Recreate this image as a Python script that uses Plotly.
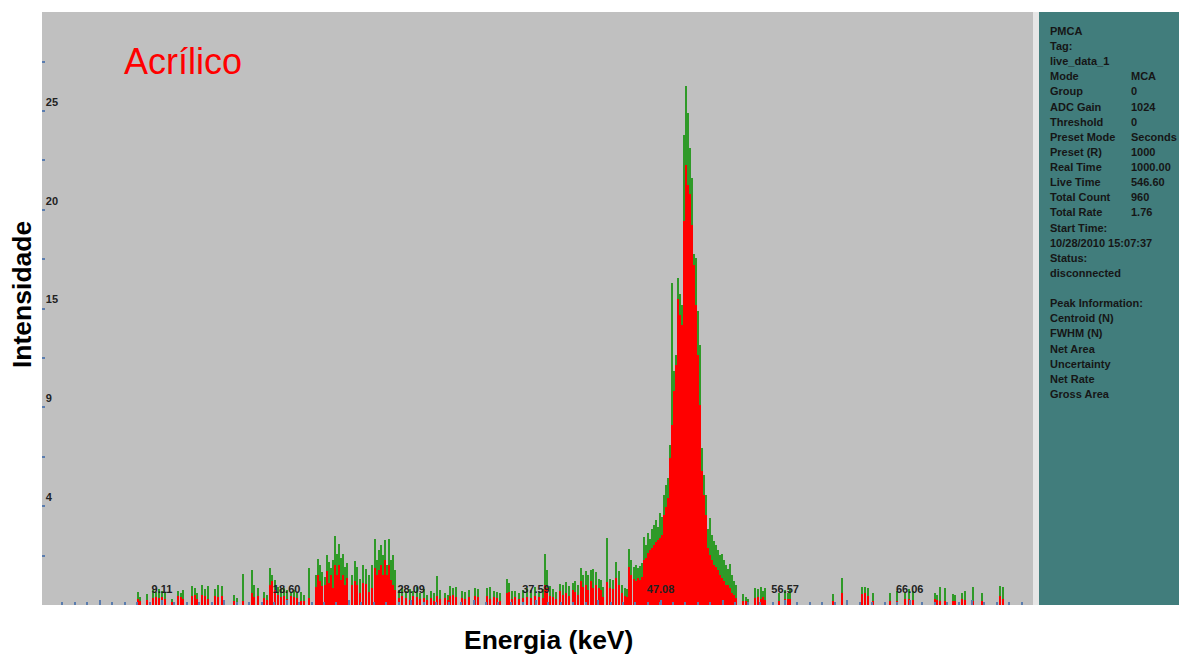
import numpy as np
import plotly.graph_objects as go

# ---- spectrum (MCA channels, intensity) ----
channel = [
    96, 98, 105, 111, 114, 117, 120, 123, 130, 136, 139, 141, 150, 153, 155, 160, 163, 166, 173, 176, 180, 192, 195,
    201, 210, 212, 216, 222, 225, 228, 230, 233, 236, 239, 242, 245, 249, 252, 255, 259, 262, 267,
    274, 276, 278, 280, 283, 285, 287, 289, 291, 293, 295, 297, 299, 301, 303, 305, 310, 313, 315, 318, 321, 324, 327, 330,
    333, 335, 337, 339, 341, 343, 345, 347, 349, 351, 353, 357, 360, 364, 368, 371, 375, 378, 382, 385, 389, 392, 395, 398,
    403, 406, 408, 411, 414, 420, 423, 427, 433, 436, 445, 448, 452, 455, 458, 465, 467, 470, 473, 477, 481,
    485, 489, 493, 497, 501, 503, 505, 508, 511, 514, 518, 521, 524, 527, 531, 533, 536, 539, 541, 544, 546, 549,
    551, 554, 557, 559, 561, 565, 568, 571, 574, 577, 580, 583, 585, 587, 589,
    592, 594, 596, 598, 600, 602, 604, 606, 608, 610, 612, 614, 616, 618, 620, 622, 624, 626, 628, 630, 632, 634, 636, 638,
    640, 642, 644, 646, 648, 650, 652, 654, 656, 658, 660, 662, 664, 666, 668, 670, 672, 674, 676, 678, 680, 682, 684, 686,
    688, 690, 692, 694,
    701, 704, 706, 713, 716, 719, 721, 723, 737, 743, 746, 748, 791, 800, 820, 823, 826, 831, 848, 855,
    863, 867, 871, 893, 895, 898, 903, 911, 913, 920, 923, 931, 940, 958, 961,
]

# raw counts (green)
counts_raw = [
    0.65, 0.4, 0.55, 0.75, 0.65, 0.8, 0.7, 0.6, 0.3, 0.7, 0.6, 0.75, 0.95, 0.85, 0.6, 1.0, 0.8, 0.95, 0.8, 1.0, 0.95, 0.5, 0.35,
    1.55, 1.75, 1.0, 0.85, 0.65, 0.5, 1.85, 1.5, 1.25, 0.9, 0.8, 0.85, 0.75, 0.65, 0.75, 0.6, 0.65, 0.5, 1.85,
    1.5, 2.3, 2.0, 1.65, 1.4, 2.5, 2.15, 1.85, 2.25, 3.45, 2.55, 3.05, 2.35, 2.55, 1.9, 2.1, 1.5, 2.2, 1.9, 1.3, 2.0, 1.8, 1.5, 2.0,
    3.3, 2.25, 2.75, 3.0, 2.5, 3.25, 2.0, 3.3, 2.25, 2.5, 1.75, 0.75, 0.85, 0.7, 0.8, 0.7, 0.9, 0.6, 0.8, 0.5, 0.7, 0.6, 1.45, 0.75,
    0.6, 0.5, 0.95, 0.85, 0.9, 0.7, 0.65, 0.75, 0.85, 0.8, 0.85, 0.9, 0.7, 0.65, 0.6, 1.3, 1.1, 0.7, 0.7, 0.6, 0.75,
    0.85, 0.75, 0.9, 0.65, 0.8, 2.55, 1.75, 0.95, 0.8, 0.65, 1.05, 1.0, 1.15, 0.95, 1.1, 1.2, 1.0, 1.85, 1.5, 1.7, 1.5, 1.75,
    1.8, 1.65, 1.3, 1.25, 0.9, 3.35, 1.3, 1.25, 2.15, 1.7, 1.0, 0.85, 0.8, 2.8, 2.25,
    1.9, 2.0, 1.85, 1.95, 2.1, 3.4, 3.0, 3.6, 3.3, 3.8, 4.0, 4.25, 3.9, 4.6, 4.4, 5.5, 6.0, 6.35, 8.0, 16.1, 11.7, 12.5, 16.35, 15.55,
    15.0, 23.5, 25.95, 24.6, 22.85, 21.35, 17.55, 17.35, 14.7, 13.0, 7.85, 6.5, 5.5, 3.8, 4.35, 3.5, 3.2, 3.0, 2.75, 2.5, 2.55, 2.25, 2.0, 1.8,
    2.05, 1.5, 1.2, 1.0,
    0.55, 0.4, 0.3, 0.85, 0.8, 0.9, 0.7, 0.85, 0.6, 0.75, 0.6, 0.8, 0.55, 1.35, 0.9, 0.9, 0.85, 0.6, 0.6, 0.7,
    0.6, 0.8, 0.7, 0.6, 0.5, 0.9, 0.85, 0.55, 0.5, 0.6, 0.7, 0.9, 0.6, 0.95, 0.9,
]

# processed counts (red)
counts_fill = [
    0.3, 0.2, 0.25, 0.35, 0.4, 0.35, 0.4, 0.3, 0.15, 0.45, 0.4, 0.3, 0.45, 0.5, 0.3, 0.5, 0.45, 0.3, 0.45, 0.4, 0.45, 0.2, 0.15,
    0.2, 0.6, 0.4, 0.45, 0.35, 0.25, 1.0, 1.2, 0.75, 0.5, 0.4, 0.45, 0.3, 0.45, 0.4, 0.35, 0.2, 0.2, 0.35,
    0.9, 1.5, 1.2, 0.95, 1.0, 1.7, 1.1, 1.5, 0.85, 2.0, 1.5, 2.0, 1.25, 1.5, 1.0, 1.35, 1.0, 1.2, 1.0, 0.6, 1.1, 1.05, 0.65, 0.85,
    1.85, 1.5, 1.75, 2.0, 1.5, 2.25, 1.5, 2.0, 1.25, 1.0, 0.75, 0.35, 0.45, 0.35, 0.25, 0.45, 0.4, 0.3, 0.35, 0.25, 0.35, 0.2, 0.45, 0.3,
    0.35, 0.25, 0.45, 0.5, 0.4, 0.35, 0.3, 0.4, 0.45, 0.4, 0.45, 0.3, 0.4, 0.35, 0.2, 0.6, 0.65, 0.3, 0.4, 0.3, 0.35,
    0.4, 0.35, 0.45, 0.4, 0.35, 1.0, 0.85, 0.45, 0.4, 0.3, 0.7, 0.5, 0.6, 0.45, 0.75, 0.65, 0.5, 1.2, 0.9, 1.0, 0.75, 1.2,
    0.85, 1.0, 0.85, 0.75, 0.4, 1.15, 0.85, 0.8, 1.35, 1.0, 0.6, 0.45, 0.4, 1.9, 1.5,
    1.3, 1.2, 1.35, 1.25, 1.4, 2.25, 2.35, 2.6, 2.75, 2.85, 3.0, 3.15, 3.25, 3.35, 3.5, 4.5, 4.9, 5.35, 7.35, 9.0, 10.7, 12.0, 15.3, 14.5,
    14.0, 19.2, 22.0, 21.0, 20.55, 19.0, 17.0, 15.0, 12.5, 10.0, 6.7, 5.5, 4.5, 2.85, 2.5, 2.25, 2.0, 1.9, 1.75, 1.5, 1.35, 1.2, 1.0, 1.0,
    0.85, 0.6, 0.5, 0.35,
    0.2, 0.2, 0.15, 0.35, 0.4, 0.3, 0.4, 0.25, 0.2, 0.3, 0.3, 0.3, 0.2, 0.6, 0.55, 0.6, 0.45, 0.2, 0.2, 0.2,
    0.3, 0.3, 0.25, 0.3, 0.25, 0.2, 0.2, 0.2, 0.2, 0.3, 0.25, 0.2, 0.2, 0.45, 0.3,
]

assert len(channel) == len(counts_raw) == len(counts_fill)

# energy calibration labels (keV) and intensity tick labels
energy_labels = ["9.11", "18.60", "28.09", "37.59", "47.08", "56.57", "66.06"]
intensity_ticks = [4.94, 9.88, 14.82, 19.76, 24.70]
intensity_labels = ["4", "9", "15", "20", "25"]

# status panel
panel_rows = [
    ("PMCA", ""), ("Tag:", ""), ("live_data_1", ""), ("Mode", "MCA"), ("Group", "0"),
    ("ADC Gain", "1024"), ("Threshold", "0"), ("Preset Mode", "Seconds"), ("Preset (R)", "1000"),
    ("Real Time", "1000.00"), ("Live Time", "546.60"), ("Total Count", "960"), ("Total Rate", "1.76"),
    ("Start Time:", ""), ("10/28/2010 15:07:37", ""), ("Status:", ""), ("disconnected", ""), ("", ""),
    ("Peak Information:", ""), ("Centroid (N)", ""), ("FWHM (N)", ""), ("Net Area", ""),
    ("Uncertainty", ""), ("Net Rate", ""), ("Gross Area", ""),
]

# ---- geometry ----
W, H = 1179, 657
L, R, T, B = 42, 1033, 12, 605
PW, PH = R - L, B - T
KEV_PER_CH = 0.076164
KEV_OFFSET = -0.03
N_CH = 991


def px_x(px):
    return (px - L) / PW


def px_y(py):
    return (B - py) / PH


ch = np.array(channel, dtype=float)
gaps = np.diff(ch)
left_gap = np.concatenate([[99.0], gaps])
right_gap = np.concatenate([gaps, [99.0]])
near = np.minimum(left_gap, right_gap)
green_w = np.where(near <= 2, 2.0, 1.8)
red_w = np.where(near <= 2, 2.0, 1.2)

label_ch = [(float(e) - KEV_OFFSET) / KEV_PER_CH for e in energy_labels]
step = label_ch[1] - label_ch[0]
half_ch = [label_ch[0] - step / 2 + k * step for k in range(8)]
tickvals = label_ch + half_ch
ticktext = [f"{e}" for e in energy_labels] + [""] * len(half_ch)

fig = go.Figure()
fig.add_trace(go.Bar(x=ch, y=counts_raw, width=green_w,
                     marker=dict(color="#2f9a28", line=dict(width=0)), hoverinfo="skip"))
fig.add_trace(go.Bar(x=ch, y=counts_fill, width=red_w,
                     marker=dict(color="#ff0000", line=dict(width=0)), hoverinfo="skip"))

tick_blue = "#5a7cae"
fig.update_layout(
    width=W, height=H,
    margin=dict(l=L, r=W - R, t=T, b=H - B, pad=0),
    paper_bgcolor="white", plot_bgcolor="#c0c0c0",
    barmode="overlay", showlegend=False,
    font=dict(family="Liberation Sans, Arial, sans-serif"),
    xaxis=dict(
        range=[0, N_CH], showgrid=False, zeroline=False, showline=False,
        tickmode="array", tickvals=tickvals, ticktext=ticktext,
        ticks="inside", ticklen=5, tickwidth=1.5, tickcolor=tick_blue,
        ticklabelposition="inside", ticklabelstandoff=4,
        tickfont=dict(size=11, color="#222222", weight="bold"),
        minor=dict(tick0=label_ch[0] - 9 * step / 10, dtick=step / 10,
                   ticks="inside", ticklen=3, tickwidth=1.5, tickcolor=tick_blue),
    ),
    yaxis=dict(
        range=[0, 29.65], showgrid=False, zeroline=False, showline=False,
        tickmode="array", tickvals=intensity_ticks, ticktext=intensity_labels,
        ticks="inside", ticklen=3, tickwidth=1.5, tickcolor=tick_blue,
        ticklabelposition="inside", ticklabelstandoff=0, ticklabelshift=-9,
        tickfont=dict(size=11, color="#222222", weight="bold"),
        minor=dict(tick0=intensity_ticks[0] / 2, dtick=intensity_ticks[0],
                   ticks="inside", ticklen=3, tickwidth=1.5, tickcolor=tick_blue),
    ),
)

# separator strip and status panel
fig.add_shape(type="rect", xref="paper", yref="paper",
              x0=px_x(1033), x1=px_x(1039), y0=0, y1=1,
              fillcolor="#e6e6e6", line=dict(width=0), layer="below")
fig.add_shape(type="rect", xref="paper", yref="paper",
              x0=px_x(1039), x1=px_x(1185), y0=0, y1=1,
              fillcolor="#417d7c", line=dict(width=0), layer="below")

panel_font = dict(family="Liberation Sans, Arial, sans-serif", size=11, color="#161616", weight="bold")
for i, (name, value) in enumerate(panel_rows):
    yy = px_y(31 + 15.125 * i)
    if name:
        fig.add_annotation(x=px_x(1048), y=yy, xref="paper", yref="paper", text=name,
                           showarrow=False, xanchor="left", yanchor="middle", font=panel_font)
    if value:
        fig.add_annotation(x=px_x(1129), y=yy, xref="paper", yref="paper", text=value,
                           showarrow=False, xanchor="left", yanchor="middle", font=panel_font)

# sample name
fig.add_annotation(x=px_x(182.5), y=px_y(62), xref="paper", yref="paper", text="Acrílico",
                   showarrow=False, xanchor="center", yanchor="middle",
                   font=dict(family="Liberation Sans, Arial, sans-serif", size=36, color="#ff0000"))

# axis titles
title_font = dict(family="Liberation Sans, Arial, sans-serif", size=26.5, color="#000000", weight="bold")
fig.add_annotation(x=px_x(548), y=px_y(640), xref="paper", yref="paper", text="Energia (keV)",
                   showarrow=False, xanchor="center", yanchor="middle", font=title_font)
fig.add_annotation(x=px_x(22), y=px_y(295), xref="paper", yref="paper", text="Intensidade",
                   showarrow=False, xanchor="center", yanchor="middle", textangle=-90, font=title_font)

fig.write_html("out.html")
